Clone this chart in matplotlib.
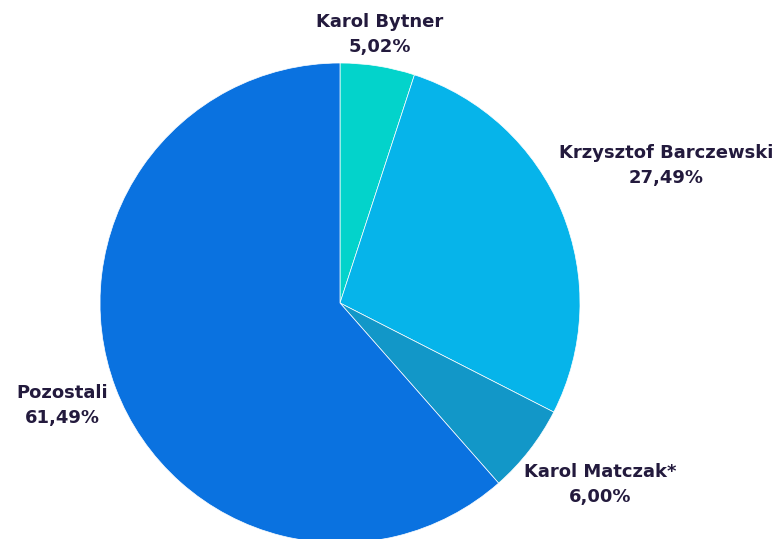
import matplotlib.pyplot as plt

# udział w wynikach (%)
nazwy = ["Karol Bytner", "Krzysztof Barczewski", "Karol Matczak*", "Pozostali"]
udzialy = [5.02, 27.49, 6.00, 61.49]
kolory = ["#03d3cb", "#06b4ea", "#1297c8", "#0a72e0"]

# położenie etykiet (współrzędne w promieniach koła)
pozycje_etykiet = [(0.167, 1.117), (1.358, 0.571), (1.083, -0.758), (-1.158, -0.425)]

W, H = 778, 539
cx, cy, r = 340, 303, 240

fig = plt.figure(figsize=(W / 100, H / 100), dpi=100)
ax = fig.add_axes([0, 0, 1, 1])

ax.pie(udzialy, colors=kolory, startangle=90, counterclock=False,
       radius=1, center=(0, 0),
       wedgeprops={"edgecolor": "white", "linewidth": 0.5})

for nazwa, wart, (x, y) in zip(nazwy, udzialy, pozycje_etykiet):
    tekst = f"{nazwa}\n{wart:.2f}%".replace(".", ",")
    ax.text(x, y, tekst, ha="center", va="center", fontsize=13,
            fontweight="bold", color="#231a3d", family="DejaVu Sans",
            linespacing=1.5)

ax.set_xlim(-cx / r, (W - cx) / r)
ax.set_ylim(-(H - cy) / r, cy / r)
ax.set_aspect("auto")
ax.axis("off")

fig.savefig("out.png", dpi=100)
